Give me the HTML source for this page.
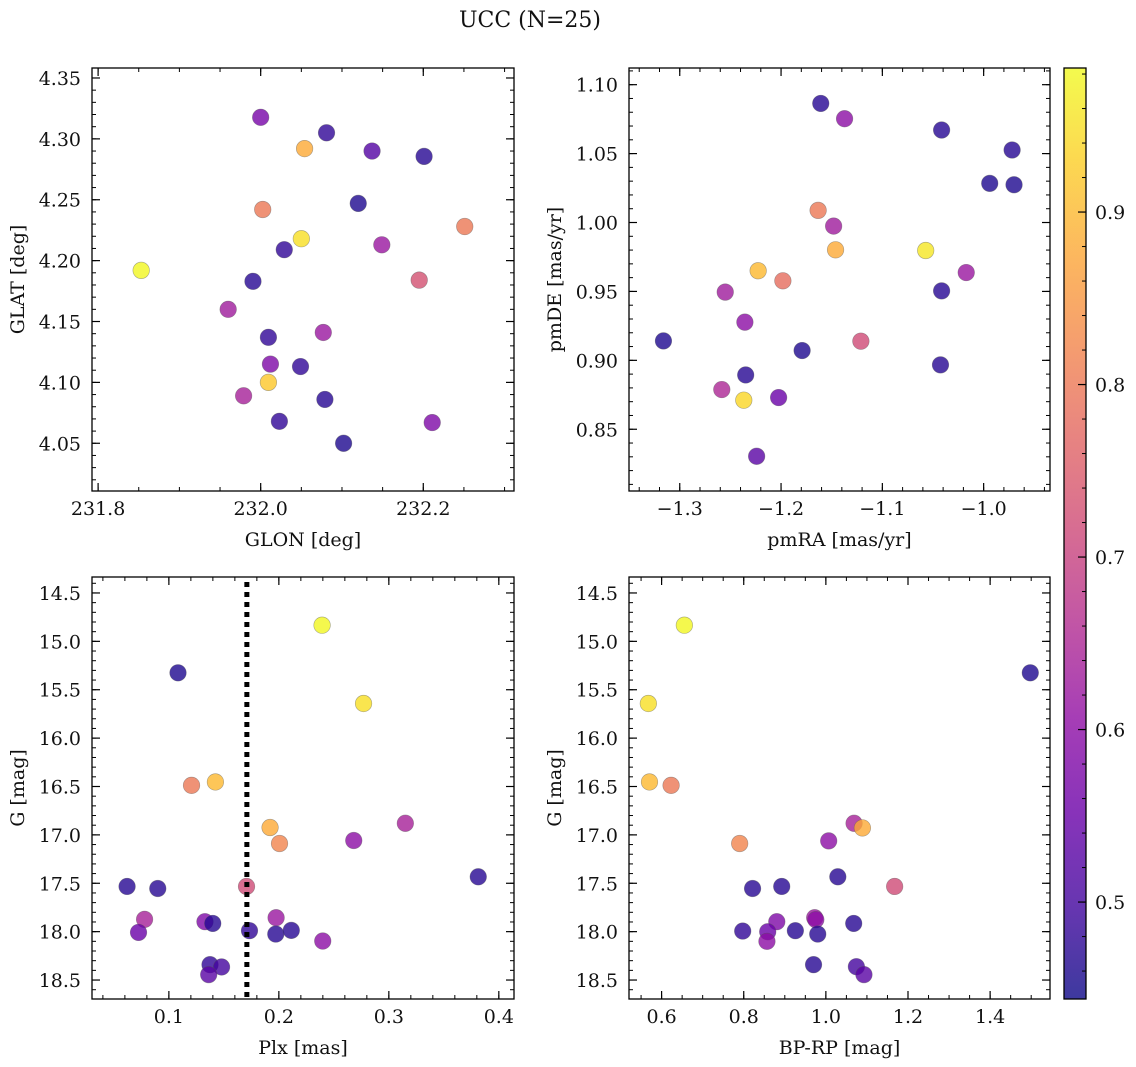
<!DOCTYPE html>
<html><head><meta charset="utf-8"><style>
html,body{margin:0;padding:0;background:#fff;}
svg{display:block;font-family:"DejaVu Serif","Liberation Serif",serif;}
</style></head><body>
<svg id="fig" width="1136" height="1067" viewBox="0 0 1136 1067" xmlns="http://www.w3.org/2000/svg">
<rect width="1136" height="1067" fill="#fff"/>
<text x="530" y="27" font-size="22" text-anchor="middle" fill="#111">UCC (N=25)</text>
</svg>
<script>
// ---- Panel 1: GLON vs GLAT ----
const glonX = [232.000,232.081,232.054,232.137,232.201,232.0025,232.120,232.251,232.050,232.149,232.029,231.853,231.9905,232.195,231.960,232.0095,232.077,232.012,232.049,232.0095,231.979,232.079,232.023,232.211,232.102];
const glatY = [4.3177,4.305,4.292,4.290,4.2856,4.242,4.247,4.228,4.218,4.213,4.209,4.192,4.183,4.184,4.160,4.137,4.141,4.115,4.113,4.100,4.089,4.086,4.068,4.067,4.050];
const glonC = [0.57,0.48,0.88,0.52,0.47,0.80,0.46,0.80,0.95,0.62,0.48,0.98,0.47,0.73,0.63,0.48,0.62,0.58,0.48,0.92,0.64,0.47,0.48,0.58,0.46];
const glonTicks = [231.8,232.0,232.2];
const glonTickLabels = ["231.8","232.0","232.2"];
const glatTicks = [4.05,4.10,4.15,4.20,4.25,4.30,4.35];
const glatTickLabels = ["4.05","4.10","4.15","4.20","4.25","4.30","4.35"];

// ---- Panel 2: pmRA vs pmDE ----
const pmraX = [-1.1608,-1.1373,-1.0415,-0.9719,-0.9940,-0.9700,-1.1634,-1.1481,-1.1462,-1.0572,-1.2226,-1.1982,-1.0172,-1.2551,-1.0415,-1.2357,-1.3161,-1.1792,-1.1212,-1.0426,-1.2349,-1.2585,-1.2368,-1.2024,-1.2241];
const pmdeY = [1.0864,1.0753,1.0671,1.0526,1.0284,1.0274,1.0088,0.9974,0.9802,0.9797,0.9650,0.9577,0.9637,0.9495,0.9504,0.9277,0.9141,0.9071,0.9139,0.8967,0.8894,0.8788,0.8711,0.8730,0.8304];
const pmC = [0.47,0.60,0.47,0.47,0.46,0.46,0.80,0.63,0.88,0.96,0.90,0.78,0.62,0.63,0.47,0.60,0.46,0.46,0.72,0.47,0.47,0.65,0.94,0.55,0.53];
const pmraTicks = [-1.3,-1.2,-1.1,-1.0];
const pmraTickLabels = ["\u22121.3","\u22121.2","\u22121.1","\u22121.0"];
const pmdeTicks = [0.85,0.90,0.95,1.00,1.05,1.10];
const pmdeTickLabels = ["0.85","0.90","0.95","1.00","1.05","1.10"];

// ---- Panel 3: Plx vs G ----
const plxX = [0.2393,0.1083,0.2770,0.1206,0.1423,0.1920,0.2006,0.3150,0.2681,0.3813,0.0620,0.0899,0.1706,0.0779,0.0724,0.1328,0.1399,0.1733,0.1975,0.1972,0.2113,0.2399,0.1374,0.1479,0.1362];
const plxG = [14.833,15.325,15.642,16.488,16.453,16.924,17.089,16.880,17.058,17.433,17.533,17.554,17.533,17.873,18.008,17.897,17.915,17.990,17.856,18.025,17.987,18.097,18.341,18.365,18.444];
const plxC = [0.98,0.46,0.95,0.80,0.90,0.88,0.82,0.64,0.60,0.47,0.47,0.47,0.72,0.64,0.55,0.58,0.47,0.48,0.62,0.47,0.47,0.60,0.48,0.50,0.53];
const plxTicks = [0.1,0.2,0.3,0.4];
const plxTickLabels = ["0.1","0.2","0.3","0.4"];
const plxCut = 0.1709;

// ---- Panel 4: BP-RP vs G ----
const bprpX = [0.6554,1.4978,0.5677,0.5705,0.6231,1.0687,1.0890,1.0069,0.7901,1.0291,1.1675,0.8215,0.8925,0.8805,0.9728,0.9755,1.0678,0.7975,0.8584,0.9257,0.9802,0.8565,0.9700,1.0743,1.0927];
const bprpG = [14.833,15.325,15.642,16.453,16.488,16.880,16.928,17.062,17.089,17.433,17.533,17.554,17.533,17.897,17.856,17.876,17.915,17.994,18.001,17.990,18.025,18.100,18.341,18.362,18.444];
const bprpC = [0.98,0.46,0.95,0.90,0.80,0.64,0.88,0.60,0.82,0.47,0.72,0.47,0.47,0.58,0.62,0.60,0.47,0.48,0.55,0.47,0.47,0.60,0.47,0.50,0.53];
const bprpTicks = [0.6,0.8,1.0,1.2,1.4];
const bprpTickLabels = ["0.6","0.8","1.0","1.2","1.4"];

const gTicks = [14.5,15.0,15.5,16.0,16.5,17.0,17.5,18.0,18.5];
const gTickLabels = ["14.5","15.0","15.5","16.0","16.5","17.0","17.5","18.0","18.5"];

// ---- Colorbar ----
const cbarTicks = [0.5,0.6,0.7,0.8,0.9];
const cbarTickLabels = ["0.5","0.6","0.7","0.8","0.9"];
const cMin = 0.4438, cMax = 0.9835;

const NS = "http://www.w3.org/2000/svg";
const svg = document.getElementById("fig");
const FS = 19;
const plasma = [[13,8,135],[65,4,157],[106,0,168],[143,13,164],[177,42,144],[204,71,120],[225,100,98],[242,132,75],[252,166,54],[252,206,37],[240,249,33]];
function cmap(v){
  let t = (v - cMin) / (cMax - cMin); t = Math.max(0, Math.min(1, t));
  const p = t * 10, i = Math.min(9, Math.floor(p)), f = p - i;
  const a = plasma[i], b = plasma[i+1];
  return "rgb(" + [0,1,2].map(k => Math.round(a[k] + (b[k]-a[k])*f)).join(",") + ")";
}
function mk(tag, attrs, parent){
  const e = document.createElementNS(NS, tag);
  for (const k in attrs) e.setAttribute(k, attrs[k]);
  (parent || svg).appendChild(e);
  return e;
}
function panel(name, box, xd, yd, xs, ys, cs, xt, xtl, xminor, yt, ytl, yminor, xlabel, ylabel){
  const [x0,y0,x1,y1] = box;
  const sx = v => x0 + (v - xd[0]) / (xd[1] - xd[0]) * (x1 - x0);
  const sy = v => y0 + (v - yd[0]) / (yd[1] - yd[0]) * (y1 - y0);
  const g = mk("g", {});
  
  
  for (let i = 0; i < xs.length; i++){
    const c = mk("circle", {cx: sx(xs[i]), cy: sy(ys[i]), r: 8.3, fill: cmap(cs[i]), "fill-opacity": 0.8, stroke: "#555", "stroke-opacity": 0.5, "stroke-width": 0.6}, g);
    
    
  }
  const lo = Math.min(xd[0], xd[1]), hi = Math.max(xd[0], xd[1]);
  for (let k = Math.ceil(lo / xminor - 1e-6); k <= Math.floor(hi / xminor + 1e-6); k++){
    const X = sx(k * xminor);
    mk("line", {x1: X, x2: X, y1: y1, y2: y1 - 4, stroke: "#000", "stroke-width": 1}, g);
    mk("line", {x1: X, x2: X, y1: y0, y2: y0 + 4, stroke: "#000", "stroke-width": 1}, g);
  }
  const ylo = Math.min(yd[0], yd[1]), yhi = Math.max(yd[0], yd[1]);
  for (let k = Math.ceil(ylo / yminor - 1e-6); k <= Math.floor(yhi / yminor + 1e-6); k++){
    const Y = sy(k * yminor);
    mk("line", {x1: x0, x2: x0 + 4, y1: Y, y2: Y, stroke: "#000", "stroke-width": 1}, g);
    mk("line", {x1: x1, x2: x1 - 4, y1: Y, y2: Y, stroke: "#000", "stroke-width": 1}, g);
  }
  xt.forEach((v, i) => {
    const X = sx(v);
    mk("line", {x1: X, x2: X, y1: y1, y2: y1 - 8, stroke: "#000", "stroke-width": 1.2}, g);
    mk("line", {x1: X, x2: X, y1: y0, y2: y0 + 8, stroke: "#000", "stroke-width": 1.2}, g);
    const t = mk("text", {x: X, y: y1 + 24, "font-size": FS, "text-anchor": "middle", fill: "#111"}, g);
    t.textContent = xtl[i];
    
    
  });
  yt.forEach((v, i) => {
    const Y = sy(v);
    mk("line", {x1: x0, x2: x0 + 8, y1: Y, y2: Y, stroke: "#000", "stroke-width": 1.2}, g);
    mk("line", {x1: x1, x2: x1 - 8, y1: Y, y2: Y, stroke: "#000", "stroke-width": 1.2}, g);
    const t = mk("text", {x: x0 - 11, y: Y + 7, "font-size": FS, "text-anchor": "end", fill: "#111"}, g);
    t.textContent = ytl[i];
    
    
  });
  const fr = mk("rect", {x: x0, y: y0, width: x1 - x0, height: y1 - y0, fill: "none", stroke: "#000", "stroke-width": 1.3}, g);
  
  
  const xl = mk("text", {x: (x0 + x1) / 2, y: y1 + 55, "font-size": FS, "text-anchor": "middle", fill: "#111"}, g);
  xl.textContent = xlabel;
  
  
  const yx = x0 - 68, yy = (y0 + y1) / 2;
  const yl = mk("text", {x: yx, y: yy, "font-size": FS, "text-anchor": "middle", fill: "#111", transform: "rotate(-90 " + yx + " " + yy + ")"}, g);
  yl.textContent = ylabel;
  
  
  return {sx, sy, g};
}

panel("glon-glat", [92,68,514,491], [231.7925,232.3116], [4.3582,4.0108], glonX, glatY, glonC, glonTicks, glonTickLabels, 0.05, glatTicks, glatTickLabels, 0.01, "GLON [deg]", "GLAT [deg]");
panel("pm", [629,68,1050,491], [-1.3501,-0.9345], [1.1121,0.8052], pmraX, pmdeY, pmC, pmraTicks, pmraTickLabels, 0.02, pmdeTicks, pmdeTickLabels, 0.01, "pmRA [mas/yr]", "pmDE [mas/yr]");
const p3 = panel("plx-g", [92,577,514,999], [0.0301,0.4138], [14.335,18.696], plxX, plxG, plxC, plxTicks, plxTickLabels, 0.02, gTicks, gTickLabels, 0.1, "Plx [mas]", "G [mag]");
panel("cmd", [629,577,1050,999], [0.5206,1.5458], [14.335,18.696], bprpX, bprpG, bprpC, bprpTicks, bprpTickLabels, 0.05, gTicks, gTickLabels, 0.1, "BP-RP [mag]", "G [mag]");

const cut = mk("line", {x1: p3.sx(plxCut), x2: p3.sx(plxCut), y1: 582, y2: 999, stroke: "#000", "stroke-width": 5, "stroke-dasharray": "5 5"});



const cb = mk("g", {});


const defs = mk("defs", {});
const grad = mk("linearGradient", {id: "cbg", x1: 0, y1: 1, x2: 0, y2: 0}, defs);
for (let i = 0; i <= 20; i++){
  const v = cMin + (cMax - cMin) * i / 20;
  mk("stop", {offset: (i / 20), "stop-color": cmap(v), "stop-opacity": 0.8}, grad);
}
const cbY0 = 68, cbY1 = 999, cbX0 = 1064, cbX1 = 1086;
const cy = v => cbY1 - (v - cMin) / (cMax - cMin) * (cbY1 - cbY0);
mk("rect", {x: cbX0, y: cbY0, width: cbX1 - cbX0, height: cbY1 - cbY0, fill: "url(#cbg)"}, cb);
for (let k = Math.ceil(cMin / 0.02); k <= Math.floor(cMax / 0.02); k++){
  const Y = cy(k * 0.02);
  mk("line", {x1: cbX1, x2: cbX1 - 4, y1: Y, y2: Y, stroke: "#000", "stroke-width": 1}, cb);
}
cbarTicks.forEach((v, i) => {
  const Y = cy(v);
  mk("line", {x1: cbX1, x2: cbX1 - 8, y1: Y, y2: Y, stroke: "#000", "stroke-width": 1.2}, cb);
  const t = mk("text", {x: 1095, y: Y + 7, "font-size": FS, fill: "#111"}, cb);
  t.textContent = cbarTickLabels[i];
  
  
});
mk("rect", {x: cbX0, y: cbY0, width: cbX1 - cbX0, height: cbY1 - cbY0, fill: "none", stroke: "#000", "stroke-width": 1.3}, cb);
</script>
</body></html>
